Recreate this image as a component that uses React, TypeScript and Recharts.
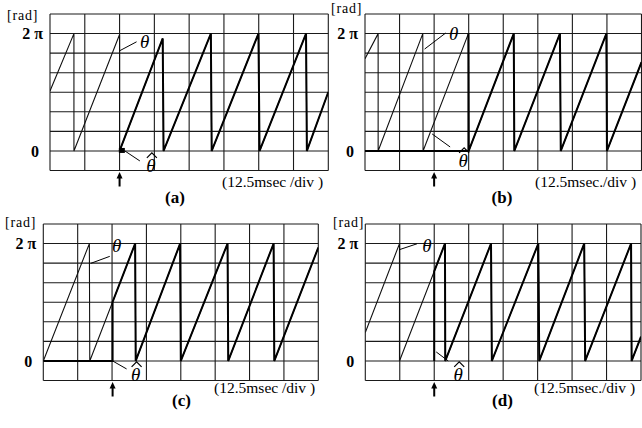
import React from 'react';
import { LineChart, Line, XAxis, YAxis, ReferenceLine, ReferenceDot } from 'recharts';

const FONT = '"Liberation Serif", "Times New Roman", serif';

// time axis: msec (12.5 msec/div, 8 div); angle axis: rad (2π = 6 div)
const gridTimes = [0, 12.5, 25, 37.5, 50, 62.5, 75, 87.5, 100];
const gridAngles = [-1.0472, 0, 1.0472, 2.0944, 3.1416, 4.1888, 5.236, 6.2832, 7.3304];
const angleTicks = [0, 6.2832];
const angleTickLabels = ['0', '2 π'];
const timeDomain = [0, 100];
const angleDomain = [-1.0472, 7.3304];

type Pt = { t: number; v: number };

// (a)
const thetaA: Pt[] = [
  { t: 0, v: 3.21 }, { t: 8.6, v: 6.28 }, { t: 8.6, v: 0 }, { t: 25.0, v: 6.23 }, { t: 25.0, v: 0 },
  { t: 40.5, v: 6.02 }, { t: 40.8, v: 0 }, { t: 57.8, v: 6.28 }, { t: 58.1, v: 0 },
  { t: 74.9, v: 6.28 }, { t: 75.3, v: 0 }, { t: 92.0, v: 6.28 }, { t: 92.3, v: 0 }, { t: 100, v: 3.15 },
];
const thetaHatA: Pt[] = [
  { t: 25.0, v: 0 }, { t: 40.5, v: 6.02 }, { t: 40.8, v: 0 }, { t: 57.8, v: 6.28 }, { t: 58.1, v: 0 },
  { t: 74.9, v: 6.28 }, { t: 75.3, v: 0 }, { t: 92.0, v: 6.28 }, { t: 92.3, v: 0 }, { t: 100, v: 3.15 },
];
// (b)
const thetaB: Pt[] = [
  { t: 0, v: 4.94 }, { t: 4.75, v: 6.28 }, { t: 4.75, v: 0 }, { t: 20.9, v: 6.28 }, { t: 21.0, v: 0 },
  { t: 37.4, v: 6.28 }, { t: 37.5, v: 0 }, { t: 53.8, v: 6.28 }, { t: 54.0, v: 0 },
  { t: 70.5, v: 6.28 }, { t: 70.8, v: 0 }, { t: 87.3, v: 6.28 }, { t: 87.5, v: 0 }, { t: 100, v: 4.75 },
];
const thetaHatB: Pt[] = [
  { t: 0, v: 0 }, { t: 37.4, v: 0 }, { t: 37.4, v: 6.28 }, { t: 37.5, v: 0 }, { t: 53.8, v: 6.28 },
  { t: 54.0, v: 0 }, { t: 70.5, v: 6.28 }, { t: 70.8, v: 0 }, { t: 87.3, v: 6.28 }, { t: 87.5, v: 0 },
  { t: 100, v: 4.75 },
];
// (c)
const thetaC: Pt[] = [
  { t: 0, v: 0 }, { t: 16.75, v: 6.28 }, { t: 16.9, v: 0 }, { t: 33.4, v: 6.28 }, { t: 33.6, v: 0 },
  { t: 49.75, v: 6.28 }, { t: 50.0, v: 0 }, { t: 67.0, v: 6.28 }, { t: 67.25, v: 0 },
  { t: 83.75, v: 6.28 }, { t: 84.0, v: 0 }, { t: 100, v: 6.07 },
];
const thetaHatC: Pt[] = [
  { t: 0, v: 0 }, { t: 25.2, v: 0 }, { t: 25.2, v: 3.16 }, { t: 33.4, v: 6.28 }, { t: 33.6, v: 0 },
  { t: 49.75, v: 6.28 }, { t: 50.0, v: 0 }, { t: 67.0, v: 6.28 }, { t: 67.25, v: 0 },
  { t: 83.75, v: 6.28 }, { t: 84.0, v: 0 }, { t: 100, v: 6.07 },
];
// (d)
const thetaD: Pt[] = [
  { t: 0, v: 1.52 }, { t: 12.4, v: 6.28 }, { t: 12.4, v: 0 }, { t: 28.9, v: 6.28 }, { t: 29.0, v: 0 },
  { t: 45.6, v: 6.28 }, { t: 45.9, v: 0 }, { t: 62.75, v: 6.28 }, { t: 63.1, v: 0 },
  { t: 79.4, v: 6.28 }, { t: 79.75, v: 0 }, { t: 96.4, v: 6.28 }, { t: 96.6, v: 0 }, { t: 100, v: 1.3 },
];
const thetaHatD: Pt[] = [
  { t: 25.0, v: 0 }, { t: 25.0, v: 4.8 }, { t: 28.9, v: 6.28 }, { t: 29.0, v: 0 },
  { t: 45.6, v: 6.28 }, { t: 45.9, v: 0 }, { t: 62.75, v: 6.28 }, { t: 63.1, v: 0 },
  { t: 79.4, v: 6.28 }, { t: 79.75, v: 0 }, { t: 96.4, v: 6.28 }, { t: 96.6, v: 0 }, { t: 100, v: 1.3 },
];

const arrowTimes = [25.0, 25.0, 25.2, 25.0];
const captions = ['(12.5msec /div )', '(12.5msec./div )', '(12.5msec /div )', '(12.5msec./div )'];
const tags = ['(a)', '(b)', '(c)', '(d)'];
// label anchor points on the traces (t msec, v rad)
const thetaAnchors: Pt[] = [{ t: 25, v: 5.36 }, { t: 21.2, v: 5.4 }, { t: 16.9, v: 5.17 }, { t: 11.5, v: 5.95 }];
const hatAnchors: Pt[] = [{ t: 26.9, v: 0 }, { t: 25, v: 0 }, { t: 25.2, v: 0 }, { t: 25, v: 0 }];

// layout (pixels)
const layouts = [
  { left: 0, top: 0, width: 335, height: 214, pl: 50, pr: 328.3, pt: 14, pb: 170.5, rad: [7, 16], cap: [222, 182], tag: [175, 198] },
  { left: 321, top: 0, width: 321, height: 214, pl: 44, pr: 320.5, pt: 14, pb: 170.5, rad: [331, 9], cap: [535, 182], tag: [502, 198] },
  { left: 0, top: 214, width: 321, height: 214, pl: 43.3, pr: 318.3, pt: 10, pb: 166.5, rad: [5, 223], cap: [214, 388], tag: [181.5, 401] },
  { left: 321, top: 214, width: 321, height: 214, pl: 44.3, pr: 320, pt: 10, pb: 166.5, rad: [333, 223], cap: [534, 388], tag: [502.5, 401] },
];
const thetaLabelOffsets = [
  { lead: [0, 0, 17, -9], text: [25, -3] },
  { lead: [1, -1, 22, -17], text: [30, -10] },
  { lead: [1, -1, 20, -8], text: [27, -12] },
  { lead: [2, 0, 20, -6], text: [30, 2] },
];
const hatLabelOffsets = [
  { lead: [0, 0, 15, 10], text: [26, 21], square: true },
  { lead: [-2, -17, 16, -4], text: [29, 16], square: false },
  { lead: [0, 0, 14, 8], text: [23, 20], square: false },
  { lead: [2, -9, 14, 0], text: [24, 20], square: false },
];

const seriesTheta = [thetaA, thetaB, thetaC, thetaD];
const seriesHat = [thetaHatA, thetaHatB, thetaHatC, thetaHatD];

const ArrowShape = (props: any) => {
  const { cx, cy } = props;
  if (cx == null || cy == null) return <g />;
  return (
    <g>
      <line x1={cx} y1={cy + 5} x2={cx} y2={cy + 16} stroke="#000" strokeWidth={2} />
      <path d={`M${cx - 3},${cy + 8} L${cx},${cy + 1.5} L${cx + 3},${cy + 8} Z`} fill="#000" />
    </g>
  );
};

const makeLabelShape = (off: any, hat: boolean) => (props: any) => {
  const { cx, cy } = props;
  if (cx == null || cy == null) return <g />;
  const [x1, y1, x2, y2] = off.lead;
  const [tx, ty] = off.text;
  return (
    <g>
      <line x1={cx + x1} y1={cy + y1} x2={cx + x2} y2={cy + y2} stroke="#000" strokeWidth={1} />
      {off.square && <rect x={cx - 6} y={cy - 3} width={6} height={5} fill="#000" />}
      <text x={cx + tx} y={cy + ty} textAnchor="middle" fontFamily={FONT} fontStyle="italic" fontSize={19} fill="#000">θ</text>
      {hat && (
        <path d={`M${cx + tx - 4},${cy + ty - 14} L${cx + tx + 1},${cy + ty - 19} L${cx + tx + 6},${cy + ty - 14}`} fill="none" stroke="#000" strokeWidth={1.2} />
      )}
    </g>
  );
};

const AngleTick = (props: any) => {
  const { x, y, payload } = props;
  const idx = angleTicks.indexOf(payload.value);
  const label = angleTickLabels[idx] ?? '';
  const shift = idx === 0 ? -4 : 0;
  return (
    <text x={x + shift} y={y} dy="0.355em" textAnchor="end" fontFamily={FONT} fontSize={16} fontWeight={700} fill="#000">
      {label}
    </text>
  );
};

const Panel = ({ i }: { i: number }) => {
  const L = layouts[i];
  const yW = 30;
  return (
    <div style={{ position: 'absolute', left: L.left, top: L.top, width: L.width, height: L.height }}>
      <LineChart
        width={L.width}
        height={L.height}
        margin={{ top: L.pt, bottom: L.height - L.pb, left: L.pl - yW, right: L.width - L.pr }}
      >
        <XAxis type="number" dataKey="t" domain={timeDomain} hide allowDataOverflow />
        <YAxis
          type="number"
          dataKey="v"
          domain={angleDomain}
          ticks={angleTicks}
          interval={0}
          width={yW}
          tickSize={0}
          tickMargin={7}
          axisLine={false}
          tickLine={false}
          allowDataOverflow
          tick={AngleTick}
        />
        {gridAngles.map((a) => (
          <ReferenceLine key={'h' + a} y={a} stroke="#1a1a1a" strokeWidth={1.1} />
        ))}
        {gridTimes.map((t) => (
          <ReferenceLine key={'v' + t} x={t} stroke="#1a1a1a" strokeWidth={1.1} />
        ))}
        <Line data={seriesTheta[i]} dataKey="v" type="linear" stroke="#111" strokeWidth={1.1} dot={false} isAnimationActive={false} />
        <Line data={seriesHat[i]} dataKey="v" type="linear" stroke="#000" strokeWidth={2} dot={false} isAnimationActive={false} />
        <ReferenceDot x={arrowTimes[i]} y={angleDomain[0]} r={1} ifOverflow="visible" shape={ArrowShape} />
        <ReferenceDot x={thetaAnchors[i].t} y={thetaAnchors[i].v} r={1} ifOverflow="visible" shape={makeLabelShape(thetaLabelOffsets[i], false)} />
        <ReferenceDot x={hatAnchors[i].t} y={hatAnchors[i].v} r={1} ifOverflow="visible" shape={makeLabelShape(hatLabelOffsets[i], true)} />
      </LineChart>
    </div>
  );
};

export default function App() {
  return (
    <div style={{ position: 'absolute', left: 0, top: 0, width: 642, height: 428, background: '#fff', overflow: 'hidden', fontFamily: FONT, color: '#000' }}>
      {layouts.map((L, i) => (
        <Panel key={'p' + i} i={i} />
      ))}
      {layouts.map((L, i) => (
        <React.Fragment key={'t' + i}>
          <div style={{ position: 'absolute', left: L.rad[0], top: L.rad[1] - 8, fontSize: 14, lineHeight: '16px', letterSpacing: 0.8, whiteSpace: 'nowrap' }}>[rad]</div>
          <div style={{ position: 'absolute', left: L.cap[0], top: L.cap[1] - 9, fontSize: 15.5, lineHeight: '18px', whiteSpace: 'nowrap' }}>{captions[i]}</div>
          <div style={{ position: 'absolute', left: L.tag[0], top: L.tag[1], transform: 'translate(-50%, -50%)', fontSize: 17, fontWeight: 700, lineHeight: '18px', whiteSpace: 'nowrap' }}>{tags[i]}</div>
        </React.Fragment>
      ))}
    </div>
  );
}
